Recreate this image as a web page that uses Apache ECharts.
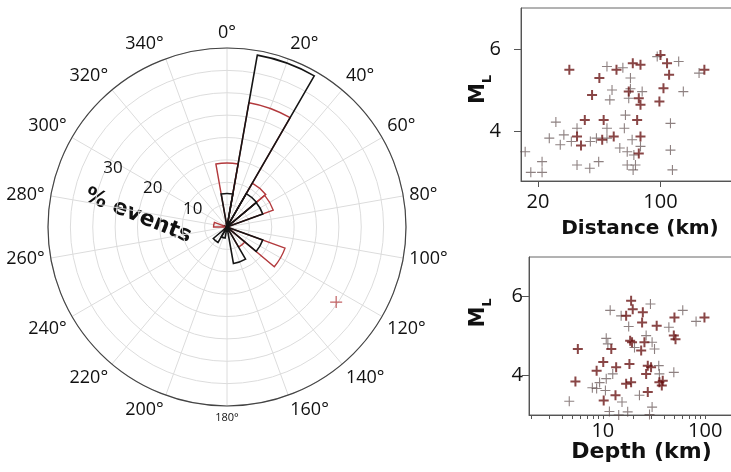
<!DOCTYPE html>
<html><head><meta charset="utf-8">
<script src="https://cdn.jsdelivr.net/npm/echarts@6/dist/echarts.min.js"></script>
<style>html,body{margin:0;padding:0;background:#fff}#c{width:731px;height:472px}</style>
</head><body><div id="c"></div>
<script>
// ---- Rose diagram (percent of events per 20° bin, bins centred on 0°,20°,...) ----
const binCenters = [0,20,40,60,80,100,120,140,160,180,200,220,240,260,280,300,320,340];
const blackPct   = [7.5,39,8.6,8.5,0,0,8.5,0,8.3,0,2.5,4,0,0,0,0,0,0];
const redPct     = [14.3,28.2,11.3,11,0,0,13.8,5.2,0,0,0,0,0,0,3,0,0,0];
const radiusLabels = [10,20,30];
const meanPoint = [[29.6,124.5]]; // [percent, azimuth]

// ---- M_L vs distance (km) ----
const distDark = [[30.2,5.50],[44.8,5.30],[40.7,4.89],[37.0,4.28],[33.4,3.88],[35.2,3.66],[47.4,4.28],[46.5,3.80],
  [56.1,5.50],[54.1,3.88],[65.9,4.97],[69.5,5.66],[76.9,5.62],[75.2,4.81],[76.9,4.65],[73.6,4.28],[76.9,3.88],
  [75.2,3.47],[100,5.86],[109,5.66],[112,5.38],[104,5.05],[98.6,4.73],[178,5.50]];
const distLight = [[16.9,3.51],[18.2,3.01],[21.1,3.01],[21.1,3.27],[25.3,4.23],[23.2,3.84],[26.8,3.68],[28.1,3.92],
  [31.0,3.76],[33.4,4.08],[33.4,3.19],[39.5,3.11],[44.4,3.27],[39.8,3.76],[43.1,3.84],[49.5,5.58],[52.9,5.01],
  [51.4,4.77],[49.5,3.84],[49.5,4.08],[58.6,3.60],[61.0,5.55],[63.1,4.40],[62.2,4.08],[64.6,3.51],[64.6,3.19],
  [69.8,3.07],[67.4,5.30],[67.4,5.04],[65.9,4.81],[70.5,3.43],[72.0,3.19],[68.9,3.80],[76.9,3.64],[78.6,4.97],
  [114,4.20],[114,3.55],[117,3.07],[127,5.70],[135,4.97],[166,5.42],[95.8,5.82]];

// ---- M_L vs depth (km) ----
const depthDark = [[5.7,4.67],[5.4,3.85],[8.7,4.12],[10.1,4.34],[10.2,3.37],[12.1,4.67],[13.5,4.21],[13.3,3.50],
  [16.9,5.51],[18.9,5.89],[19.6,5.68],[18.5,4.88],[19.3,4.84],[18.2,4.29],[16.9,3.79],[18.9,3.83],[24.6,5.60],
  [24.2,5.34],[23.7,4.63],[25.5,4.84],[27.5,4.25],[26.5,4.04],[27.5,3.58],[29.6,4.21],[33.6,5.26],[35.7,3.83],
  [37.7,3.75],[38.5,3.87],[50.1,5.47],[49.4,5.01],[51.3,4.92],[98.4,5.47]];
const depthLight = [[4.7,3.35],[7.9,3.69],[8.7,3.67],[9.3,3.82],[10.6,3.62],[10.8,3.92],[11.8,5.65],[10.8,4.94],
  [11.2,4.80],[12.5,4.04],[11.6,3.09],[15.1,5.51],[15.4,3.33],[14.3,3.0],[17.9,5.24],[17.5,3.08],[26.5,5.01],
  [29.2,5.81],[30.3,4.84],[32.0,4.67],[30.3,3.20],[28.6,3.01],[35.2,4.25],[35.7,4.04],[44.2,5.22],[49.4,4.08],
  [60.4,5.65],[81.5,5.37],[20.4,4.71],[22.8,3.50]];

const distTicks = [20,100];
const depthLabelTicks = [10,100];
const depthMinorTicks = [2,3,4,5,6,7,8,9,10,20,30,40,50,60,70,80,90,100,200];
const mTicks = [4,6];

const FONT = '"Open Sans", sans-serif';
const BOLD = '"DejaVu Sans", Verdana, sans-serif';
const plus = 'path://M0,5L10,5M5,0L5,10';
const nz = a => a.map(v => v === 0 ? null : v);

const chart = echarts.init(document.getElementById('c'), null, {renderer:'canvas'});
const C = [227,227], R = 179;

const scatterSeries = (name, data, xi, color, w) => ({
  name, type:'scatter', xAxisIndex:xi, yAxisIndex:xi, data,
  symbol: plus, symbolSize: 10,
  itemStyle:{color:'rgba(0,0,0,0)', borderColor:color, borderWidth:w},
  silent:true, animation:false
});

const yAxisCommon = (gi, min, margin, gap, pad) => ({
  gridIndex:gi, type:'value', min, max:7,
  name:'{m|M}{l|L}', nameLocation:'middle', nameRotate:90, nameGap:gap, nameMoveOverlap:false,
  nameTextStyle:{padding:pad, rich:{
    m:{fontFamily:BOLD, fontWeight:'bold', fontSize:21, color:'#111', verticalAlign:'bottom', padding:[0,0,5,0]},
    l:{fontFamily:BOLD, fontWeight:'bold', fontSize:13, color:'#111', verticalAlign:'bottom'}}},
  axisLine:{show:true, lineStyle:{color:'#555'}},
  axisTick:{show:true, customValues:mTicks, length:7, lineStyle:{color:'#555'}},
  axisLabel:{customValues:mTicks, margin, fontFamily:FONT, fontSize:20, color:'#111'},
  splitLine:{show:false}
});

chart.setOption({
  animation:false,
  polar:[
    {center:C, radius:R},
    {center:C, radius:R},
    {center:[C[0]+5.5, C[1]+2], radius:R}
  ],
  angleAxis:[
    {polarIndex:0, type:'value', min:0, max:360, interval:20, startAngle:90, clockwise:true,
     axisLine:{show:true, lineStyle:{color:'#444', width:1.2}},
     axisTick:{show:false},
     splitLine:{show:true, lineStyle:{color:'#dcdcdc', width:1}},
     axisLabel:{margin:6, fontFamily:FONT, fontSize:18, color:'#111',
       formatter: v => v === 360 ? '' : (v === 180 ? '{s|180°}' : v + '°'),
       rich:{s:{fontFamily:FONT, fontSize:11, color:'#111'}}}},
    {polarIndex:1, type:'category', data:binCenters.map(String), boundaryGap:true, startAngle:100, clockwise:true,
     show:false},
    {polarIndex:2, type:'value', min:0, max:360, startAngle:153, show:false}
  ],
  radiusAxis:[
    {polarIndex:0, type:'value', min:0, max:40, interval:5,
     axisLine:{show:false}, axisTick:{show:false}, axisLabel:{show:false},
     splitLine:{show:true, lineStyle:{color:'#dcdcdc', width:1}}},
    {polarIndex:1, type:'value', min:0, max:40, show:false},
    {polarIndex:2, type:'value', min:0, max:40, interval:10,
     axisLine:{show:false}, axisTick:{show:false}, splitLine:{show:false},
     axisLabel:{margin:0, align:'center', verticalAlign:'middle', fontFamily:FONT, fontSize:17, color:'#111',
       formatter: v => radiusLabels.indexOf(v) >= 0 ? String(v) : ''}}
  ],
  grid:[
    {left:521, top:8, width:245, height:173, show:true, borderColor:'#666', borderWidth:1, outerBoundsMode:'none'},
    {left:529, top:257, width:225, height:158, show:true, borderColor:'#666', borderWidth:1, outerBoundsMode:'none'}
  ],
  xAxis:[
    {gridIndex:0, type:'log', logBase:10, min:16, max:400,
     name:'Distance (km)', nameLocation:'middle', nameGap:38, nameMoveOverlap:false,
     nameTextStyle:{fontFamily:BOLD, fontWeight:'bold', fontSize:20, color:'#111', padding:[0,7,0,0]},
     axisLine:{show:true, lineStyle:{color:'#555'}},
     axisTick:{show:true, customValues:distTicks, length:6, lineStyle:{color:'#555'}},
     axisLabel:{customValues:distTicks, margin:11, fontFamily:FONT, fontSize:20, color:'#111'},
     splitLine:{show:false}, minorSplitLine:{show:false}},
    {gridIndex:1, type:'log', logBase:10, min:1.9, max:300,
     name:'Depth (km)', nameLocation:'middle', nameGap:26, nameMoveOverlap:false,
     nameTextStyle:{fontFamily:BOLD, fontWeight:'bold', fontSize:22, color:'#111'},
     axisLine:{show:true, lineStyle:{color:'#555'}},
     axisTick:{show:true, customValues:depthMinorTicks, length:4, lineStyle:{color:'#555'}},
     axisLabel:{customValues:depthLabelTicks, margin:6, fontFamily:FONT, fontSize:20, color:'#111'},
     splitLine:{show:false}}
  ],
  yAxis:[
    yAxisCommon(0, 2.8, 20, 27, [0,0,0,10]),
    yAxisCommon(1, 3, 6, 35, [0,0,0,46])
  ],
  graphic:[
    {type:'text', x:138, y:216, rotation:-22*Math.PI/180,
     style:{text:'% events', fontFamily:BOLD, fontWeight:'bold', fontSize:22, fill:'#111', align:'center', verticalAlign:'middle'}}
  ],
  series:[
    {type:'bar', coordinateSystem:'polar', polarIndex:1, data:nz(redPct), barGap:'-100%', barCategoryGap:'0%',
     itemStyle:{color:'rgba(0,0,0,0)', borderColor:'#b2393c', borderWidth:1.4}, silent:true},
    {type:'bar', coordinateSystem:'polar', polarIndex:1, data:nz(blackPct), barGap:'-100%', barCategoryGap:'0%',
     itemStyle:{color:'rgba(0,0,0,0)', borderColor:'#151515', borderWidth:1.6}, silent:true},
    {type:'scatter', coordinateSystem:'polar', polarIndex:0, data:meanPoint, symbol:plus, symbolSize:12,
     itemStyle:{color:'rgba(0,0,0,0)', borderColor:'#b2393c', borderWidth:1.2}, silent:true},
    scatterSeries('dl', distLight, 0, 'rgba(90,70,70,0.85)', 1.1),
    scatterSeries('dd', distDark, 0, 'rgba(100,12,12,0.95)', 2),
    scatterSeries('pl', depthLight, 1, 'rgba(90,70,70,0.85)', 1.1),
    scatterSeries('pd', depthDark, 1, 'rgba(100,12,12,0.95)', 2)
  ]
});
</script></body></html>
